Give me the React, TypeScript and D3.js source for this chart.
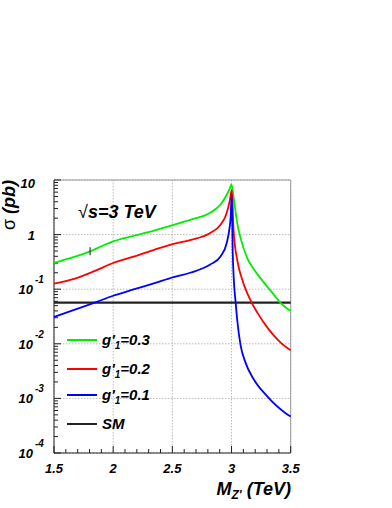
import React from 'react';
import * as d3 from 'd3';

// Z' mass (TeV) and cross-section (pb)
const massG3 = [1.5, 1.67, 1.805, 1.92, 2.0, 2.18, 2.35, 2.51, 2.65, 2.82, 2.907, 2.96, 2.985, 3.0, 3.02, 3.048, 3.076, 3.133, 3.19, 3.274, 3.358, 3.41, 3.5];
const sigmaG3 = [0.303, 0.391, 0.494, 0.637, 0.753, 0.959, 1.20, 1.51, 1.86, 2.51, 3.55, 5.37, 6.92, 8.32, 4.37, 1.62, 0.871, 0.372, 0.229, 0.132, 0.0794, 0.0575, 0.0398];

const massG2 = [1.5, 1.67, 1.84, 2.0, 2.18, 2.35, 2.51, 2.65, 2.82, 2.907, 2.96, 2.985, 3.002, 3.017, 3.053, 3.09, 3.169, 3.218, 3.316, 3.415, 3.5];
const sigmaG2 = [0.127, 0.155, 0.214, 0.302, 0.398, 0.531, 0.676, 0.794, 1.07, 1.51, 2.51, 4.17, 6.61, 1.23, 0.302, 0.151, 0.0575, 0.0372, 0.0182, 0.0105, 0.00759];

const massG1 = [1.5, 1.67, 1.85, 2.0, 2.18, 2.35, 2.51, 2.65, 2.82, 2.907, 2.96, 2.985, 2.992, 3.002, 3.01, 3.02, 3.035, 3.05, 3.076, 3.119, 3.19, 3.3, 3.457, 3.5];
const sigmaG1 = [0.0309, 0.0417, 0.0575, 0.0759, 0.100, 0.129, 0.166, 0.200, 0.282, 0.398, 0.708, 1.41, 2.0, 5.5, 0.50, 0.141, 0.0562, 0.0251, 0.00955, 0.00447, 0.00219, 0.00110, 0.000537, 0.000468];

const sigmaSM = 0.057;

const xTicks = [1.5, 2, 2.5, 3, 3.5];
const yDecades = [-4, -3, -2, -1, 0, 1];

const series = [
  { label: '0.3', color: '#00ee00', mass: massG3, sigma: sigmaG3 },
  { label: '0.2', color: '#ff0000', mass: massG2, sigma: sigmaG2 },
  { label: '0.1', color: '#0000ff', mass: massG1, sigma: sigmaG1 },
];

const font = "'Liberation Sans', Arial, Helvetica, sans-serif";

export default function App() {
  const left = 54, right = 290.7, top = 180, bottom = 453;
  const x = d3.scaleLinear().domain([1.5, 3.5]).range([left, right]);
  const y = d3.scaleLog().domain([1e-4, 10]).range([bottom, top]);

  const line = d3.line<[number, number]>()
    .x(d => x(d[0]))
    .y(d => y(d[1]))
    .curve(d3.curveMonotoneX);

  const minorX = d3.range(15, 36).map(v => v / 10);
  const minorY: number[] = [];
  yDecades.slice(0, -1).forEach(e => {
    for (let k = 2; k <= 9; k++) minorY.push(k * Math.pow(10, e));
  });

  const txt = { fontFamily: font, fontWeight: 'bold' as const, fontStyle: 'italic' as const, fill: '#000' };

  const legendY = [340, 369, 395, 424];

  return (
    <svg width={392} height={508} style={{ position: 'absolute', left: 0, top: 0, background: '#fff' }}>
      {/* grid */}
      {xTicks.map(t => (
        <line key={'gx' + t} x1={x(t)} x2={x(t)} y1={top} y2={bottom} stroke="#aaa" strokeWidth={0.8} strokeDasharray="1.5,1.5" />
      ))}
      {yDecades.map(e => (
        <line key={'gy' + e} x1={left} x2={right} y1={y(Math.pow(10, e))} y2={y(Math.pow(10, e))} stroke="#aaa" strokeWidth={0.8} strokeDasharray="1.5,1.5" />
      ))}
      <line x1={left} x2={right} y1={top} y2={top} stroke="#999" strokeWidth={1} />
      <line x1={right} x2={right} y1={top} y2={bottom} stroke="#999" strokeWidth={1} />

      {/* axes */}
      <line x1={left} x2={left} y1={top} y2={bottom} stroke="#222" strokeWidth={1} />
      <line x1={left} x2={right} y1={bottom} y2={bottom} stroke="#222" strokeWidth={1} />
      {minorX.map(t => (
        <line key={'mx' + t} x1={x(t)} x2={x(t)} y1={bottom} y2={bottom - (xTicks.includes(t) ? 7 : 4)} stroke="#222" strokeWidth={1} />
      ))}
      {minorY.map(v => (
        <line key={'my' + v} x1={left} x2={left + 4} y1={y(v)} y2={y(v)} stroke="#222" strokeWidth={1} />
      ))}
      {yDecades.map(e => (
        <line key={'My' + e} x1={left} x2={left + 7} y1={y(Math.pow(10, e))} y2={y(Math.pow(10, e))} stroke="#222" strokeWidth={1} />
      ))}

      {/* tick labels */}
      {xTicks.map(t => (
        <text key={'lx' + t} x={x(t)} y={473} textAnchor="middle" fontSize={13} {...txt}>{t}</text>
      ))}
      {yDecades.map(e => {
        const yy = y(Math.pow(10, e));
        if (e === 0) return <text key={'ly' + e} x={35} y={yy + 5} textAnchor="end" fontSize={13} {...txt}>1</text>;
        if (e === 1) return <text key={'ly' + e} x={35} y={yy + 8} textAnchor="end" fontSize={13} {...txt}>10</text>;
        return (
          <g key={'ly' + e}>
            <text x={33} y={yy + 5} textAnchor="end" fontSize={13} {...txt}>10</text>
            <text x={35} y={yy - 6} textAnchor="start" fontSize={10} {...txt}>{e}</text>
          </g>
        );
      })}

      {/* axis titles */}
      <text transform="translate(15,180) rotate(-90)" textAnchor="end" fontSize={18} {...txt}>
        <tspan fontWeight="normal" fontStyle="normal">σ</tspan> (pb)
      </text>
      <text x={291} y={495} textAnchor="end" fontSize={18} {...txt}>
        M<tspan fontSize={12} dy={4}>Z'</tspan><tspan dy={-4}> (TeV)</tspan>
      </text>

      {/* curves */}
      <line x1={left} x2={right} y1={y(sigmaSM)} y2={y(sigmaSM)} stroke="#222" strokeWidth={2.2} />
      {series.map(s => (
        <path key={s.label} d={line(s.mass.map((m, i) => [m, s.sigma[i]] as [number, number])) || ''} fill="none" stroke={s.color} strokeWidth={1.8} />
      ))}
      <line x1={x(1.805)} x2={x(1.805)} y1={y(0.494) - 4} y2={y(0.494) + 4} stroke="#444" strokeWidth={1.3} />

      {/* energy label */}
      <text x={78} y={218} fontSize={18} {...txt}>
        <tspan fontWeight="normal" fontStyle="normal">√</tspan>s=3 TeV
      </text>

      {/* legend */}
      {series.map((s, i) => (
        <g key={'lg' + s.label}>
          <line x1={67} x2={97} y1={legendY[i]} y2={legendY[i]} stroke={s.color} strokeWidth={2} />
          <text x={102} y={legendY[i] + 5} fontSize={15} {...txt}>
            g'<tspan fontSize={10} dy={4}>1</tspan><tspan dy={-4}>={s.label}</tspan>
          </text>
        </g>
      ))}
      <line x1={67} x2={97} y1={legendY[3]} y2={legendY[3]} stroke="#222" strokeWidth={2} />
      <text x={102} y={legendY[3] + 5} fontSize={15} {...txt}>SM</text>
    </svg>
  );
}
